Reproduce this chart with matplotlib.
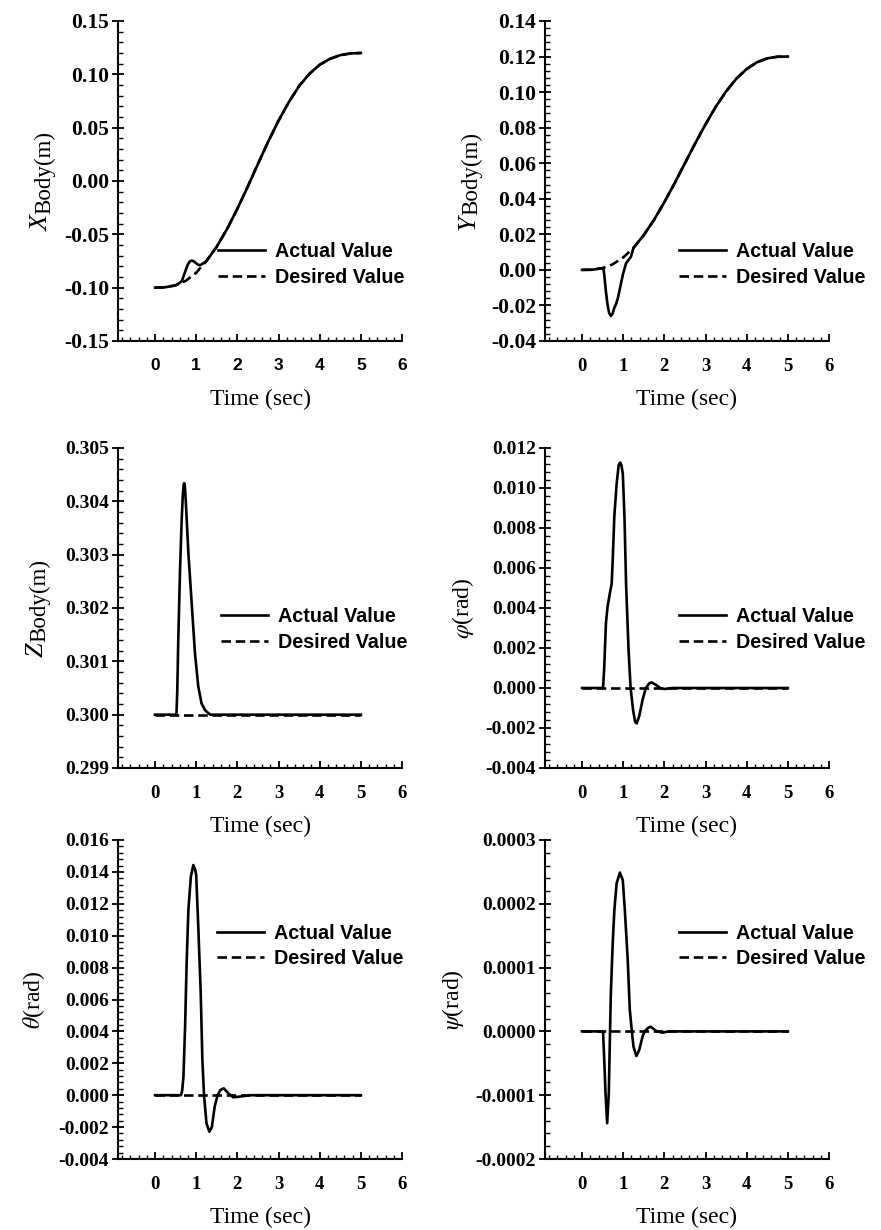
import numpy as np
import matplotlib
matplotlib.use("Agg")
import matplotlib.pyplot as plt
from matplotlib.ticker import AutoMinorLocator
from matplotlib.transforms import ScaledTranslation

plt.rcParams['font.family'] = ['Liberation Serif', 'DejaVu Serif']
plt.rcParams['mathtext.fontset'] = 'stix'
plt.rcParams['axes.unicode_minus'] = False

# planned body trajectory (sec)
t_plan = [0, 0.25, 0.5, 0.75, 1.0, 1.25, 1.5, 1.75, 2.0, 2.25, 2.5,
          2.75, 3.0, 3.25, 3.5, 3.75, 4.0, 4.25, 4.5, 4.75, 5.0]
x_desired = [-0.1000, -0.0996, -0.0978, -0.0935, -0.0860, -0.0750, -0.0615,
             -0.0450, -0.0260, -0.0055, 0.0160, 0.0370, 0.0565, 0.0740,
             0.0890, 0.1005, 0.1090, 0.1145, 0.1180, 0.1196, 0.1200]
y_desired = [0.0000, 0.0001, 0.0010, 0.0032, 0.0070, 0.0124, 0.0196, 0.0282,
             0.0381, 0.0488, 0.0600, 0.0712, 0.0819, 0.0918, 0.1004, 0.1076,
             0.1130, 0.1168, 0.1190, 0.1199, 0.1200]

# actual X / Y where they leave the plan
t_x_bump = [0.6, 0.65, 0.7, 0.75, 0.8, 0.85, 0.9, 0.95, 1.0, 1.05, 1.1, 1.17]
x_bump = [-0.0955, -0.0938, -0.0885, -0.0830, -0.0780, -0.0752, -0.0746,
          -0.0755, -0.0772, -0.0786, -0.0788, -0.0772]
t_y_dip = [0.52, 0.54, 0.58, 0.62, 0.66, 0.70, 0.745, 0.78, 0.83, 0.87,
           0.93, 0.99, 1.07, 1.19]
y_dip = [0.0008, -0.0028, -0.0122, -0.0197, -0.0244, -0.0259, -0.0244,
         -0.0216, -0.0190, -0.0159, -0.0095, -0.0028, 0.0038, 0.0075]

# height and orientation, desired is constant
t_flat = [0, 5]
z_desired = [0.3, 0.3]
ang_desired = [0.0, 0.0]

t_z = [0, 0.52, 0.54, 0.566, 0.607, 0.647, 0.675, 0.695, 0.71, 0.725, 0.75,
       0.81, 0.89, 0.97, 1.05, 1.13, 1.22, 1.34, 5]
z_actual = [0.3, 0.3, 0.30045, 0.30146, 0.30271, 0.30365, 0.30412, 0.30431,
            0.30434, 0.30428, 0.30396, 0.30303, 0.30209, 0.30115, 0.30053,
            0.30021, 0.30008, 0.3, 0.3]

t_phi = [0, 0.51, 0.54, 0.58, 0.62, 0.69, 0.72, 0.745, 0.785, 0.84, 0.89,
         0.93, 0.96, 0.99, 1.03, 1.07, 1.13, 1.18, 1.24, 1.29, 1.33, 1.39,
         1.47, 1.55, 1.63, 1.69, 1.8, 1.9, 2.0, 2.2, 5]
phi_actual = [0, 0, 0.00107, 0.00323, 0.00407, 0.0049, 0.0052, 0.0064,
              0.0086, 0.0102, 0.01115, 0.01127, 0.0111, 0.01073, 0.0086,
              0.0052, 0.0019, 0, -0.0011, -0.0017, -0.00177, -0.0014,
              -0.0006, 0, 0.00023, 0.00028, 0.00015, 0.0, -0.00005, 0, 0]

t_theta = [0, 0.63, 0.66, 0.69, 0.73, 0.77, 0.81, 0.87, 0.93, 0.97, 1.0,
           1.05, 1.11, 1.15, 1.19, 1.25, 1.32, 1.38, 1.45, 1.52, 1.59, 1.67,
           1.78, 1.9, 2.02, 2.3, 5]
theta_actual = [0, 0, 0.0003, 0.00116, 0.0043, 0.0085, 0.0116, 0.0137,
                0.01443, 0.0142, 0.0138, 0.0106, 0.0064, 0.0022, 0, -0.00176,
                -0.00229, -0.002, -0.0007, 0, 0.00033, 0.00043, 0.00012,
                -0.00013, -0.0001, 0, 0]

t_psi = [0, 0.51, 0.54, 0.57, 0.61, 0.65, 0.68, 0.70, 0.745, 0.785, 0.84,
         0.92, 0.99, 1.04, 1.11, 1.16, 1.21, 1.25, 1.32, 1.39, 1.47, 1.52,
         1.61, 1.67, 1.79, 1.95, 2.1, 5]
psi_actual = [0, 0, -4.5e-5, -9.7e-5, -1.44e-4, -9.7e-5, 0, 6e-5, 1.38e-4,
              1.9e-4, 2.32e-4, 2.49e-4, 2.37e-4, 1.9e-4, 1.12e-4, 3.4e-5, 0,
              -2.4e-5, -3.86e-5, -2.9e-5, -8e-6, 0, 5.8e-6, 7.4e-6, 1e-6,
              -2e-6, 0, 0]

# tick labels
x_ticks = [0, 1, 2, 3, 4, 5, 6]
yt_x = [-0.15, -0.10, -0.05, 0.00, 0.05, 0.10, 0.15]
yt_y = [-0.04, -0.02, 0.00, 0.02, 0.04, 0.06, 0.08, 0.10, 0.12, 0.14]
yt_z = [0.299, 0.300, 0.301, 0.302, 0.303, 0.304, 0.305]
yt_phi = [-0.004, -0.002, 0.000, 0.002, 0.004, 0.006, 0.008, 0.010, 0.012]
yt_theta = [-0.004, -0.002, 0.000, 0.002, 0.004, 0.006, 0.008, 0.010,
            0.012, 0.014, 0.016]
yt_psi = [-0.0002, -0.0001, 0.0000, 0.0001, 0.0002, 0.0003]


def splice(t_des, v_des, t_dev, v_dev):
    # actual path = plan outside the deviation window
    t_des = np.asarray(t_des)
    v_des = np.asarray(v_des)
    lo = t_des < t_dev[0]
    hi = t_des > t_dev[-1]
    t = np.concatenate([t_des[lo], t_dev, t_des[hi]])
    v = np.concatenate([v_des[lo], v_dev, v_des[hi]])
    return t, v


def body_label(ax, letter, xb):
    # Origin style label: big italic letter, then "Body(m)" a bit lower
    fig = ax.figure
    r = fig.canvas.get_renderer()
    pieces = [(letter, 'italic', 19, -2.5), ('Body', 'normal', 16.5, 0),
              ('(m)', 'normal', 16.5, 0)]
    lens = []
    for s, st, fs, _ in pieces:
        tmp = fig.text(0, 0, s, fontsize=fs, style=st)
        lens.append(tmp.get_window_extent(r).width)
        tmp.remove()
    gap = 1
    y = -(sum(lens) + gap) / 2
    for (s, st, fs, dx), ln in zip(pieces, lens):
        tr = ax.transAxes + ScaledTranslation(dx / 100, y / 100,
                                              fig.dpi_scale_trans)
        ax.text(xb, 0.5, s, transform=tr, rotation=90, rotation_mode='anchor',
                ha='left', va='baseline', fontsize=fs, style=st,
                clip_on=False)
        y += ln
        if s == letter:
            y += gap


t_x_act, x_actual = splice(t_plan, x_desired, t_x_bump, x_bump)
t_y_act, y_actual = splice(t_plan, y_desired, t_y_dip, y_dip)

W, H = 881, 1230
fig = plt.figure(figsize=(W / 100, H / 100), dpi=100)

cols = [118, 545]
rows = [(21, 341), (448, 768), (840, 1159)]
aw = 284

panels = [
    # (t_act, act, t_des, des, yticks, fmt, ylabel, label_x, legend_xy, top_row)
    (t_x_act, x_actual, t_plan, x_desired, yt_x, '%.2f',
     'X', -0.239, (0.352, 0.239), True),
    (t_y_act, y_actual, t_plan, y_desired, yt_y, '%.2f',
     'Y', -0.240, (0.473, 0.239), True),
    (t_z, z_actual, t_flat, z_desired, yt_z, '%.3f',
     'Z', -0.257, (0.363, 0.433), False),
    (t_phi, phi_actual, t_flat, ang_desired, yt_phi, '%.3f',
     r'$\varphi$(rad)', -0.290, (0.473, 0.433), False),
    (t_theta, theta_actual, t_flat, ang_desired, yt_theta, '%.3f',
     r'$\theta$(rad)', -0.296, (0.348, 0.668), False),
    (t_psi, psi_actual, t_flat, ang_desired, yt_psi, '%.4f',
     r'$\psi$(rad)', -0.325, (0.473, 0.668), False),
]

for i, (ta, va, td, vd, yt, fmt, ylab, lx, lxy, top_row) in enumerate(panels):
    top, bot = rows[i // 2]
    left = cols[i % 2]
    ax = fig.add_axes([left / W, 1 - bot / H, aw / W, (bot - top) / H])

    ax.plot(ta, va, color='black', lw=1.9, label='Actual Value')
    ax.plot(td, vd, color='black', lw=1.9, linestyle=(0, (3.6, 1.8)),
            label='Desired Value')

    ax.set_xlim(-0.9, 6.0)
    ax.set_ylim(yt[0], yt[-1])
    ax.set_xticks(x_ticks)
    ax.set_yticks(yt)
    ax.set_yticklabels([fmt % v for v in yt])
    ax.xaxis.set_minor_locator(AutoMinorLocator(5))
    ax.yaxis.set_minor_locator(AutoMinorLocator(5))

    for s in ['top', 'right']:
        ax.spines[s].set_visible(False)
    for s in ['left', 'bottom']:
        ax.spines[s].set_linewidth(1.5)

    ax.tick_params(axis='y', which='major', direction='inout', length=9,
                   width=1.3, pad=2)
    ax.tick_params(axis='y', which='minor', direction='in', length=3.5,
                   width=1.0)
    ax.tick_params(axis='x', which='major', direction='in', length=5,
                   width=1.3, pad=12)
    ax.tick_params(axis='x', which='minor', direction='in', length=3,
                   width=1.0)

    for lab in ax.get_yticklabels():
        lab.set_fontweight('bold')
        lab.set_fontsize(15.5 if top_row else 14)
    for lab in ax.get_xticklabels():
        lab.set_fontweight('bold')
        if i == 0:
            lab.set_family('Liberation Sans')
            lab.set_fontsize(12.5)
        else:
            lab.set_fontsize(13.5)

    ax.set_xlabel('Time (sec)', fontsize=17)
    ax.xaxis.set_label_coords(0.5, -0.184)
    ax.xaxis.label.set_va('center')
    if len(ylab) == 1:
        body_label(ax, ylab, lx)
    else:
        ax.set_ylabel(ylab, fontsize=17)
        ax.yaxis.set_label_coords(lx, 0.5)
        ax.yaxis.label.set_va('center')

    ax.legend(loc='center left', bbox_to_anchor=lxy, frameon=False,
              borderpad=0, borderaxespad=0, handlelength=2.39,
              handletextpad=0.5, labelspacing=0.33,
              prop={'family': 'Liberation Sans', 'weight': 'bold',
                    'size': 14.2})

fig.savefig('out.png', dpi=100)
